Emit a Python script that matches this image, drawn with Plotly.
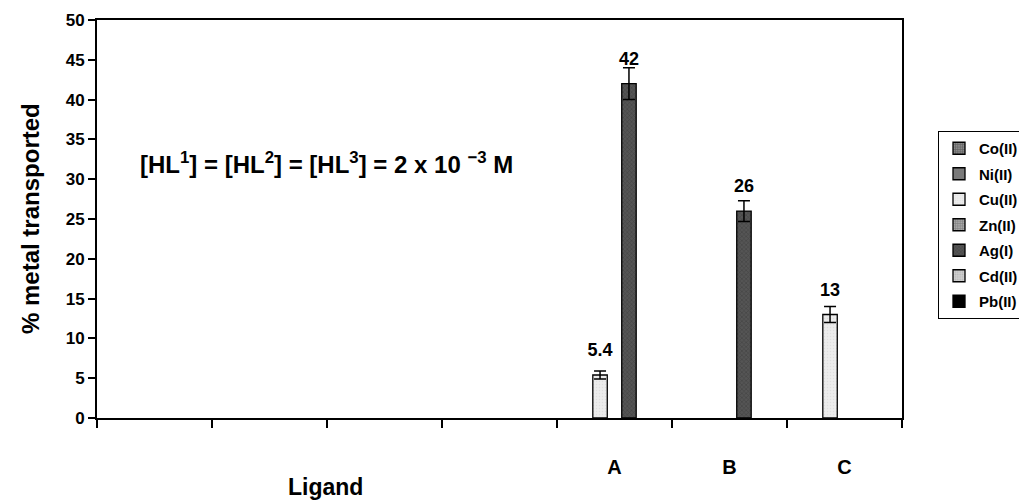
import plotly.graph_objects as go

# ---- data ----
categories = ["", "", "", "", "A", "B", "C"]
series = ["Co(II)", "Ni(II)", "Cu(II)", "Zn(II)", "Ag(I)", "Cd(II)", "Pb(II)"]
values = {
    "Co(II)": [None, None, None, None, None, None, None],
    "Ni(II)": [None, None, None, None, None, None, None],
    "Cu(II)": [None, None, None, None, 5.4, None, 13],
    "Zn(II)": [None, None, None, None, None, None, None],
    "Ag(I)":  [None, None, None, None, 42, 26, None],
    "Cd(II)": [None, None, None, None, None, None, None],
    "Pb(II)": [None, None, None, None, None, None, None],
}
errors = {
    "Cu(II)": [0, 0, 0, 0, 0.5, 0, 1.0],
    "Ag(I)":  [0, 0, 0, 0, 2.0, 1.3, 0],
}
labels = {
    "Cu(II)": ["", "", "", "", "5.4", "", "13"],
    "Ag(I)":  ["", "", "", "", "42", "26", ""],
}
y_ticks = [0, 5, 10, 15, 20, 25, 30, 35, 40, 45, 50]

# ---- styles ----
styles = {
    "Co(II)": dict(color="#8a8a8a", pattern=dict(shape="+", fgcolor="#333333", size=3, solidity=0.4)),
    "Ni(II)": dict(color="#7a7a7a", pattern=None),
    "Cu(II)": dict(color="#ececec", pattern=dict(shape=".", fgcolor="#d0d0d0", size=3, solidity=0.2)),
    "Zn(II)": dict(color="#a8a8a8", pattern=dict(shape="+", fgcolor="#555555", size=3, solidity=0.4)),
    "Ag(I)":  dict(color="#555555", pattern=dict(shape="x", fgcolor="#2e2e2e", size=3, solidity=0.35)),
    "Cd(II)": dict(color="#cfcfcf", pattern=dict(shape=".", fgcolor="#9a9a9a", size=3, solidity=0.3)),
    "Pb(II)": dict(color="#000000", pattern=None),
}

x = list(range(len(categories)))
LABEL = "<span style='font-size:18px'><b>{}</b></span><br><span style='color:rgba(0,0,0,0)'>.</span>"

# page body has an 8px default margin: build the figure 8px smaller
W, H = 1019, 492
PL, PR, PT, PB = 97 - 8, 902 - 8, 20 - 8, 418 - 8

fig = go.Figure()
for s in series:
    st = styles[s]
    marker = dict(color=st["color"], line=dict(color="black", width=1.3))
    if st["pattern"]:
        marker["pattern"] = st["pattern"]
    kw = {}
    if s in labels:
        kw["text"] = [LABEL.format(t) if t else "" for t in labels[s]]
        kw["textposition"] = "outside"
        kw["textfont"] = dict(family="Arial", size=10.5, color="black")
        kw["constraintext"] = "none"
        kw["cliponaxis"] = False
        kw["error_y"] = dict(type="data", array=errors[s], visible=True,
                             color="black", thickness=1.5, width=6)
    fig.add_trace(go.Bar(
        x=x, y=values[s], name=f"<b>{s}</b>", marker=marker,
        legendgroup=s, hoverinfo="skip", **kw,
    ))

fig.update_layout(
    width=W, height=H,
    margin=dict(l=PL, r=W - PR, t=PT, b=H - PB, autoexpand=False),
    paper_bgcolor="white", plot_bgcolor="white",
    barmode="group", bargap=0.12, bargroupgap=0,
    font=dict(family="Arial", color="black"),
    showlegend=True,
    legend=dict(
        x=(938 - 97) / 805, y=(418 - 131) / 398, xanchor="left", yanchor="top",
        bordercolor="black", borderwidth=1, bgcolor="white",
        font=dict(family="Arial", size=15, color="black"),
        tracegroupgap=3, itemwidth=30,
    ),
)

fig.update_xaxes(
    range=[-0.5, len(categories) - 0.5],
    tickmode="array", tickvals=x, ticktext=[f"<b>{c}</b>" for c in categories],
    ticks="", tickfont=dict(family="Arial", size=20, color="black"),
    ticklabelstandoff=30, automargin=False,
    minor=dict(tickmode="array", tickvals=[i - 0.5 for i in range(len(categories) + 1)],
               ticks="outside", ticklen=8, tickcolor="black", tickwidth=1.5),
    showline=True, linecolor="black", linewidth=2, mirror=True,
    showgrid=False, zeroline=False,
)
fig.update_yaxes(
    range=[0, 50], tickmode="array", tickvals=y_ticks,
    ticktext=[f"<b>{v}</b>" for v in y_ticks],
    ticks="outside", ticklen=7, tickcolor="black", tickwidth=1.5,
    tickfont=dict(family="Arial", size=17, color="black"),
    showline=True, linecolor="black", linewidth=2, mirror=True,
    showgrid=False, zeroline=False, automargin=False,
)

fig.add_annotation(
    text="<b>% metal transported</b>", xref="paper", yref="paper",
    x=(30 - 97) / 805, y=(418 - 219) / 398, xanchor="center", yanchor="middle",
    textangle=-90, showarrow=False, font=dict(family="Arial", size=24, color="black"),
)
fig.add_annotation(
    text="<b>Ligand</b>", xref="paper", yref="paper",
    x=(325 - 97) / 805, y=-(487 - 418) / 398, xanchor="center", yanchor="middle",
    showarrow=False, font=dict(family="Arial", size=23, color="black"),
)
fig.add_annotation(
    text="<b>[HL<sup>1</sup>] = [HL<sup>2</sup>] = [HL<sup>3</sup>] = 2 x 10 <sup>\u22123</sup> M</b>",
    xref="paper", yref="paper", x=(138 - 97) / 805, y=(418 - 163) / 398,
    xanchor="left", yanchor="middle", showarrow=False,
    font=dict(family="Arial", size=24, color="black"),
)

fig.write_html("out.html")
